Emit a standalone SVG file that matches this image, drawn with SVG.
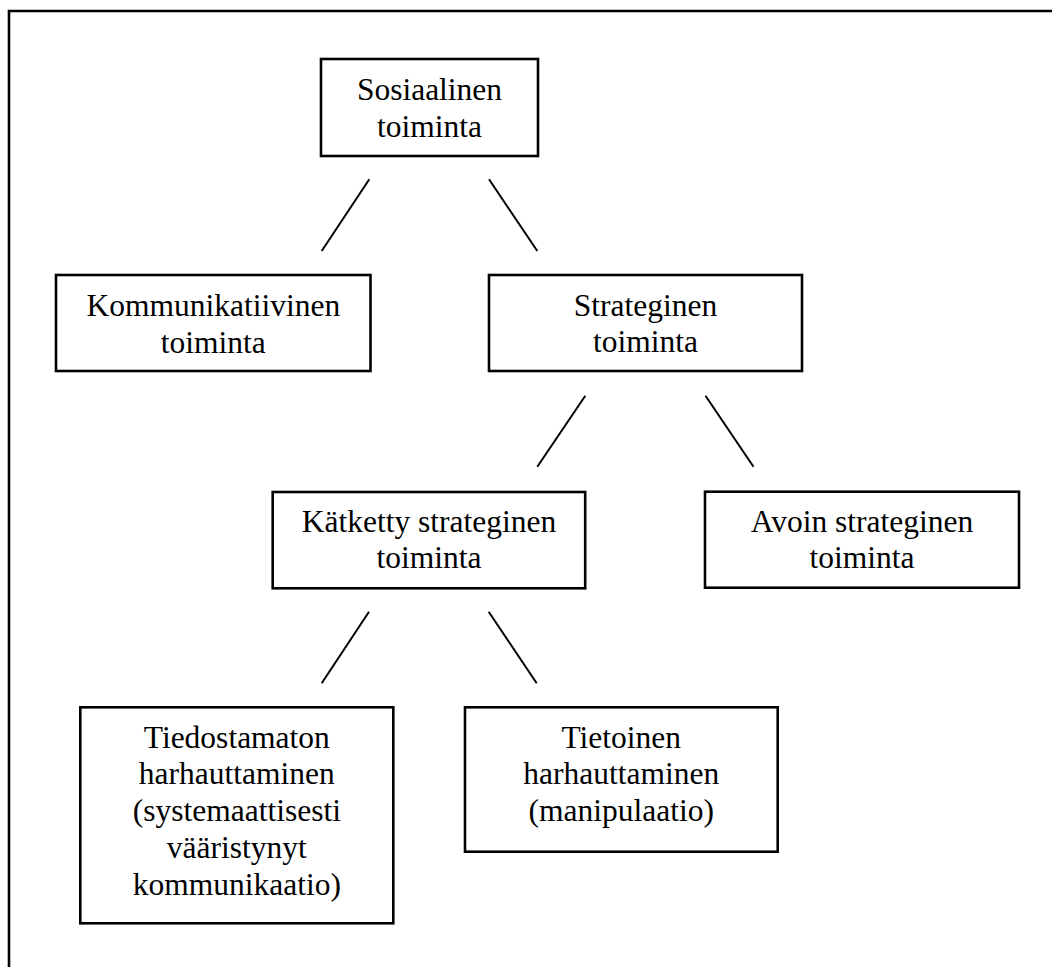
<svg xmlns="http://www.w3.org/2000/svg" width="1052" height="967" viewBox="0 0 1052 967">
  <style>
    .box { fill: #ffffff; stroke: #000000; stroke-width: 2.6; }
    .frame { fill: none; stroke: #000000; stroke-width: 2.6; }
    .link { stroke: #000000; stroke-width: 2; fill: none; }
    .label { font-family: "Liberation Serif", "Times New Roman", serif; font-size: 31.5px; fill: #000000; text-anchor: middle; }
  </style>
  <rect width="1052" height="967" fill="#ffffff"/>

  <!-- outer frame: only the top and left edges fall inside the page -->
  <path class="frame" d="M9,970 V11 H1055"/>

  <g id="connectors">
    <line class="link" x1="369.3" y1="179.3" x2="321.7" y2="251"/>
    <line class="link" x1="489" y1="179.3" x2="537.3" y2="251"/>
    <line class="link" x1="585.3" y1="395.7" x2="537.3" y2="466.7"/>
    <line class="link" x1="705.5" y1="395.7" x2="753.5" y2="466.7"/>
    <line class="link" x1="369" y1="611.7" x2="321.7" y2="683.3"/>
    <line class="link" x1="488.7" y1="611.7" x2="536.7" y2="683.3"/>
  </g>

  <g id="sosiaalinen">
    <rect class="box" x="321" y="59" width="217" height="97"/>
    <text class="label" x="429.5" y="99.5">Sosiaalinen</text>
    <text class="label" x="429.5" y="136.5">toiminta</text>
  </g>

  <g id="kommunikatiivinen">
    <rect class="box" x="56" y="275" width="314.5" height="96"/>
    <text class="label" x="213.3" y="316">Kommunikatiivinen</text>
    <text class="label" x="213.3" y="352.5">toiminta</text>
  </g>

  <g id="strateginen">
    <rect class="box" x="489" y="275" width="313" height="96"/>
    <text class="label" x="645.5" y="316">Strateginen</text>
    <text class="label" x="645.5" y="352">toiminta</text>
  </g>

  <g id="katketty">
    <rect class="box" x="272.7" y="492" width="312.5" height="96.3"/>
    <text class="label" x="429" y="531.7">Kätketty strateginen</text>
    <text class="label" x="429" y="568.3">toiminta</text>
  </g>

  <g id="avoin">
    <rect class="box" x="705" y="491.7" width="314" height="96"/>
    <text class="label" x="862" y="531.7">Avoin strateginen</text>
    <text class="label" x="862" y="568.3">toiminta</text>
  </g>

  <g id="tiedostamaton">
    <rect class="box" x="80.3" y="707.3" width="313" height="216"/>
    <text class="label" x="236.8" y="747.7">Tiedostamaton</text>
    <text class="label" x="236.8" y="784.4">harhauttaminen</text>
    <text class="label" x="236.8" y="821.2">(systemaattisesti</text>
    <text class="label" x="236.8" y="858">vääristynyt</text>
    <text class="label" x="236.8" y="894.8">kommunikaatio)</text>
  </g>

  <g id="tietoinen">
    <rect class="box" x="465" y="707.3" width="312.7" height="144.4"/>
    <text class="label" x="621.3" y="747.5">Tietoinen</text>
    <text class="label" x="621.3" y="784.2">harhauttaminen</text>
    <text class="label" x="621.3" y="821">(manipulaatio)</text>
  </g>
</svg>
